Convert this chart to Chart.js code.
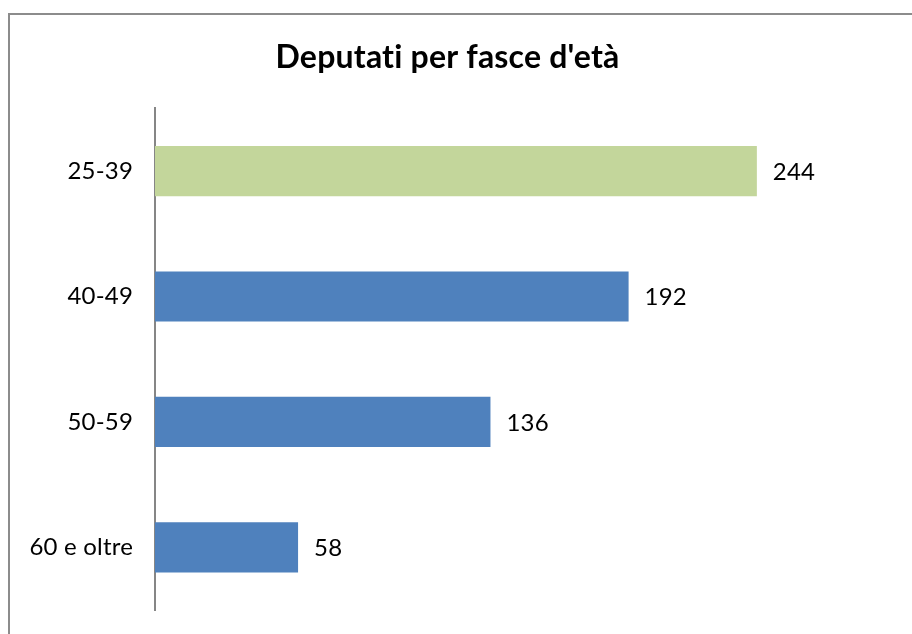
<!DOCTYPE html>
<html>
<head>
<meta charset="utf-8">
<script src="https://cdn.jsdelivr.net/npm/chart.js@4.4.1/dist/chart.umd.min.js"></script>
<style>
    html, body { margin: 0; padding: 0; background: #fff; }
    #wrap { width: 912px; height: 634px; }
</style>
</head>
<body>
<div id="wrap"><canvas id="ageChart" width="912" height="634"></canvas></div>
<script>
    const categories = ['25-39', '40-49', '50-59', '60 e oltre'];
    const deputies = [244, 192, 136, 58];
    const barColors = ['#C3D69B', '#4F81BD', '#4F81BD', '#4F81BD'];
    const chartTitle = "Deputati per fasce d'età";

    const fontFamily = "Lato, 'Open Sans', 'DejaVu Sans', sans-serif";

    // cornice grigia del grafico (tagliata a destra e in basso)
    const frame = {
        id: 'frame',
        beforeDraw(chart) {
            const c = chart.ctx;
            // niente legature "ti" nel titolo
            if ('letterSpacing' in c) c.letterSpacing = '0.2px';
            c.save();
            c.strokeStyle = '#8c8c8c';
            c.lineWidth = 2;
            c.strokeRect(9, 14, chart.width + 20, chart.height + 20);
            c.restore();
        }
    };

    // etichette dei valori a destra delle barre
    const valueLabels = {
        id: 'valueLabels',
        afterDatasetsDraw(chart) {
            const c = chart.ctx;
            const meta = chart.getDatasetMeta(0);
            c.save();
            c.font = "24px " + fontFamily;
            c.fillStyle = '#000';
            c.textAlign = 'left';
            c.textBaseline = 'middle';
            meta.data.forEach((bar, i) => {
                c.fillText(String(deputies[i]), bar.x + 16, bar.y + 1);
            });
            c.restore();
        }
    };

    new Chart(document.getElementById('ageChart'), {
        type: 'bar',
        data: {
            labels: categories,
            datasets: [{
                data: deputies,
                backgroundColor: barColors,
                borderWidth: 0,
                categoryPercentage: 0.8,
                barPercentage: 0.5
            }]
        },
        options: {
            indexAxis: 'y',
            responsive: false,
            animation: false,
            layout: { padding: { left: 0, right: 17, top: 0, bottom: 24 } },
            plugins: {
                legend: { display: false },
                tooltip: { enabled: false },
                title: {
                    display: true,
                    text: chartTitle,
                    color: '#000',
                    font: { family: fontFamily, size: 32, weight: 'bold' },
                    padding: { top: 38, bottom: 32 }
                }
            },
            scales: {
                x: { display: false, min: 0, max: 300 },
                y: {
                    grid: { display: false, drawTicks: false },
                    border: { display: true, color: '#868686', width: 2 },
                    ticks: {
                        color: '#000',
                        padding: 22,
                        font: { family: fontFamily, size: 24 }
                    },
                    afterFit(scale) {
                        scale.width = 155;
                        scale.paddingTop = 0;
                        scale.paddingBottom = 0;
                    }
                }
            }
        },
        plugins: [frame, valueLabels]
    });
</script>
</body>
</html>
